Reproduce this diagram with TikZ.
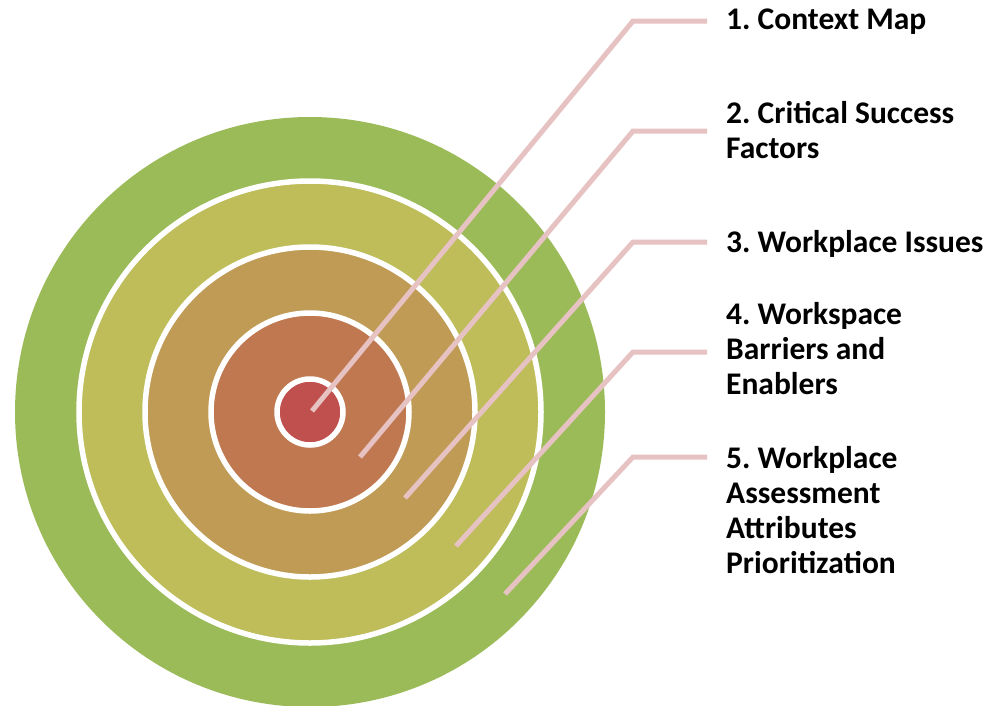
\documentclass[tikz,border=0pt]{standalone}
\usepackage{fontspec}
\setmainfont{Carlito}
\frenchspacing
\begin{document}
\begin{tikzpicture}[x=1pt,y=-1pt,
  ring/.style={draw=white,line width=5.5pt},
  leader/.style={draw=leadcol,line width=5pt},
  label/.style={anchor=base west,inner sep=0pt,align=left,
    font=\fontsize{31.5}{35}\selectfont\bfseries}]
\definecolor{c1}{HTML}{9BBB59}
\definecolor{c2}{HTML}{BEBD5A}
\definecolor{c3}{HTML}{C09B55}
\definecolor{c4}{HTML}{C07850}
\definecolor{c5}{HTML}{C0504D}
\definecolor{leadcol}{HTML}{E6C2C2}
\useasboundingbox (0,0) rectangle (1003,705);
% concentric target
\fill[c1] (310,412) circle[radius=295pt];
\filldraw[c2,ring] (310,412) circle[radius=231pt];
\filldraw[c3,ring] (310,412) circle[radius=165pt];
\filldraw[c4,ring] (310,412) circle[radius=99pt];
\filldraw[c5,ring] (310,412) circle[radius=33pt];
% leader end points and bends
\coordinate (s1) at (312,411);
\coordinate (s2) at (360,457);
\coordinate (s3) at (405,498);
\coordinate (s4) at (456,546);
\coordinate (s5) at (505,594);
\coordinate (b1) at (633,21);
\coordinate (b2) at (633,131);
\coordinate (b3) at (633,242);
\coordinate (b4) at (633,352);
\coordinate (b5) at (633,457);
\coordinate (e1) at (707,21);
\coordinate (e2) at (707,131);
\coordinate (e3) at (707,242);
\coordinate (e4) at (707,352);
\coordinate (e5) at (707,457);
\draw[leader] (s1) -- (b1) -- (e1);
\draw[leader] (s2) -- (b2) -- (e2);
\draw[leader] (s3) -- (b3) -- (e3);
\draw[leader] (s4) -- (b4) -- (e4);
\draw[leader] (s5) -- (b5) -- (e5);
% labels (base anchor sits on the last line)
\node[label] (l1) at (726,29) {1. Context Map};
\node[label] (l2) at (726,158) {2. Critical Success\\Factors};
\node[label] (l3) at (726,252) {3. Workplace Issues};
\node[label] (l4) at (726,394) {4. Workspace\\Barriers and\\Enablers};
\node[label] (l5) at (726,573) {5. Workplace\\Assessment\\Attributes\\Prioritization};
\end{tikzpicture}
\end{document}
